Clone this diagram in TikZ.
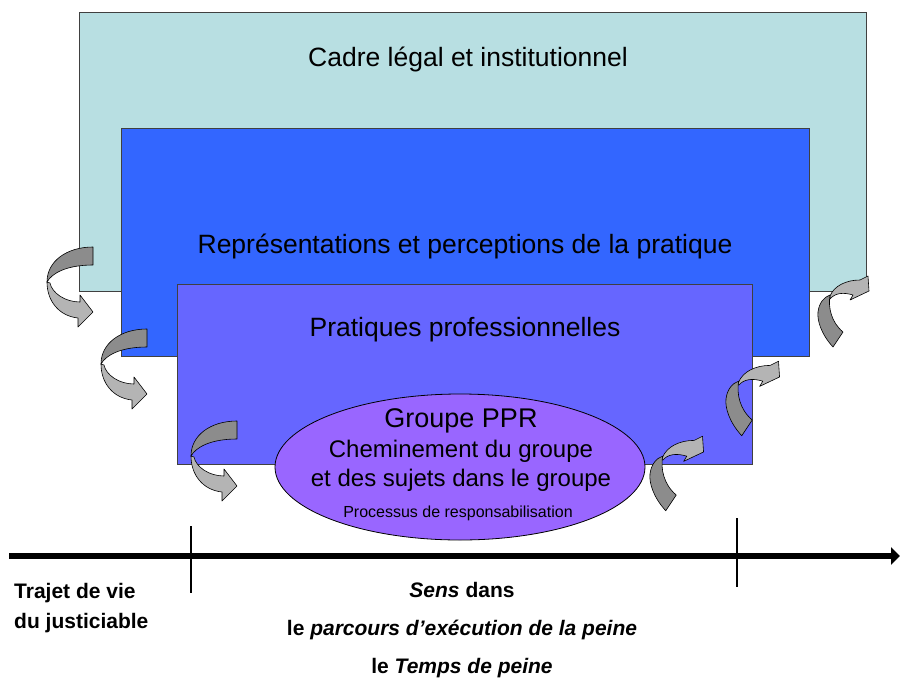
\documentclass[tikz,border=0pt]{standalone}
\usepackage{fontspec}
\setmainfont{Liberation Sans}
\usetikzlibrary{arrows.meta,shapes.geometric}
\definecolor{cadrec}{HTML}{B8DFE2}
\definecolor{repc}{HTML}{3366FF}
\definecolor{pratc}{HTML}{6666FF}
\definecolor{groupc}{HTML}{9966FF}
\definecolor{arrdark}{HTML}{8C8C8C}
\definecolor{arrlight}{HTML}{B4B4B4}
\begin{document}
\begin{tikzpicture}[x=1pt,y=-1pt,
  box/.style={draw=black!75, line width=0.8pt, inner sep=0pt, outer sep=0pt, anchor=north west},
  big/.style={font=\fontsize{26.5}{30}\selectfont, anchor=base, inner sep=0pt},
  grp/.style={font=\fontsize{24}{28}\selectfont, anchor=base, inner sep=0pt},
  bot/.style={font=\fontsize{21}{25}\selectfont\bfseries, inner sep=0pt},
  ribbon/.style={draw=black, line width=0.6pt, line join=round},
  leftarrow/.pic={
    \path[ribbon, fill=arrdark] (46,1) .. controls (20,1) and (0,15) .. (0,36)
      .. controls (5,27) and (20,19) .. (46,19) -- cycle;
    \path[ribbon, fill=arrlight] (0,36) .. controls (0,55) and (12,70) .. (31,72)
      -- (31,81) -- (46,66) -- (33,49) -- (33,56)
      .. controls (18,56) and (5,47) .. (3,37) -- cycle;
  },
  rightarrow/.pic={
    \path[ribbon, fill=arrlight] (12,24) .. controls (16,14) and (28,8) .. (42,8)
      -- (50,4) -- (51,19) -- (32,28) -- (35,23)
      .. controls (25,20) and (17,21) .. (12,27) -- cycle;
    \path[ribbon, fill=arrdark] (15,75) .. controls (3,62) and (-1,48) .. (0,40)
      .. controls (1,31) and (6,25) .. (12,23)
      .. controls (10,35) and (13,50) .. (25,60) -- cycle;
  }
]
\useasboundingbox[fill=white] (0,0) rectangle (900,678);

% nested frames
\node[box, fill=cadrec, minimum width=787pt, minimum height=279pt] (cadre) at (79,12) {};
\node[box, fill=repc, minimum width=688pt, minimum height=228pt] (rep) at (121,128) {};
\node[box, fill=pratc, minimum width=575pt, minimum height=180pt] (prat) at (177,284) {};
\node[draw=black, line width=0.8pt, ellipse, fill=groupc, minimum width=370pt, minimum height=146pt, inner sep=0pt] (groupe) at (460,467) {};

% titles
\node[big] (tcadre) at (468,66) {Cadre légal et institutionnel};
\node[big] (trep) at (465,253) {Représentations et perceptions de la pratique};
\node[big] (tprat) at (465,336) {Pratiques professionnelles};
\node[grp, font=\fontsize{27}{30}\selectfont] (tg1) at (461,427) {Groupe PPR};
\node[grp] (tg2) at (461,457) {Cheminement du groupe};
\node[grp] (tg3) at (461,486) {et des sujets dans le groupe};
\node[font=\fontsize{16}{19}\selectfont, anchor=base, inner sep=0pt] (tg4) at (458,517) {Processus de responsabilisation};

% curved arrows
\pic at (47,246) {leftarrow};
\pic at (101,328) {leftarrow};
\pic at (191,420) {leftarrow};
\pic at (818,272) {rightarrow};
\pic[scale=1.05] at (726,357) {rightarrow};
\pic[scale=1.05] at (650,432) {rightarrow};

% timeline
\coordinate (tl0) at (9,556);
\coordinate (tl1) at (900,556);
\draw[line width=6pt, -{Triangle[length=9pt,width=17pt]}] (tl0) -- (tl1);
\coordinate (k1a) at (191,526);
\coordinate (k1b) at (191,593);
\coordinate (k2a) at (737,518);
\coordinate (k2b) at (737,587);
\draw[line width=2pt] (k1a) -- (k1b);
\draw[line width=2pt] (k2a) -- (k2b);

% bottom labels
\node[bot, anchor=base west] (traj1) at (14,598) {Trajet de vie};
\node[bot, anchor=base west] (traj2) at (14,628) {du justiciable};
\node[bot, anchor=base] (sens1) at (462,597) {\textit{Sens} dans};
\node[bot, anchor=base] (sens2) at (462,635) {le \textit{parcours d’exécution de la peine}};
\node[bot, anchor=base] (sens3) at (462,673) {le \textit{Temps de peine}};
\end{tikzpicture}
\end{document}
